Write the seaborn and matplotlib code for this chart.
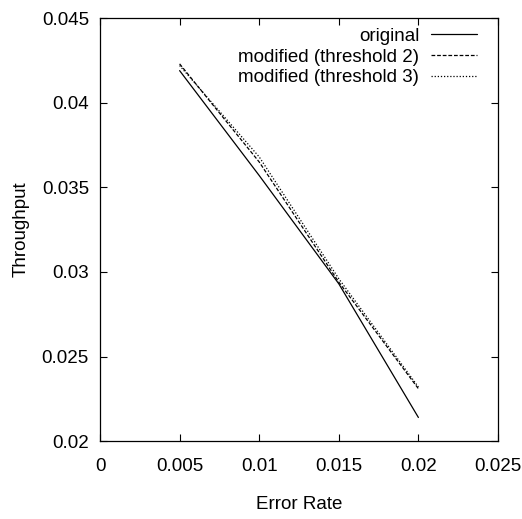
import pandas as pd
import matplotlib
matplotlib.use("Agg")
import matplotlib.pyplot as plt
import seaborn as sns

# ---- Data ----
ERROR_RATE = [0.005, 0.01, 0.015, 0.02]
ORIGINAL = [0.0419, 0.0357, 0.0293, 0.0214]
MOD_T2 = [0.0423, 0.0365, 0.0294, 0.0231]
MOD_T3 = [0.0422, 0.0368, 0.0296, 0.0232]
SERIES = ["original", "modified (threshold 2)", "modified (threshold 3)"]


def main():
    df = pd.concat([
        pd.DataFrame({"Error Rate": ERROR_RATE, "Throughput": vals, "series": name})
        for name, vals in zip(SERIES, [ORIGINAL, MOD_T2, MOD_T3])
    ], ignore_index=True)

    sns.set_theme(style="ticks")
    plt.rcParams["font.family"] = ["Liberation Sans Narrow", "Liberation Sans", "DejaVu Sans"]
    plt.rcParams["text.color"] = "black"
    plt.rcParams["axes.labelcolor"] = "black"
    plt.rcParams["xtick.color"] = "black"
    plt.rcParams["ytick.color"] = "black"

    fig = plt.figure(figsize=(5.22, 5.19), dpi=100)
    ax = fig.add_axes([0.1916, 0.150, 0.7624, 0.815])

    sns.lineplot(
        data=df, x="Error Rate", y="Throughput", style="series",
        dashes={SERIES[0]: "", SERIES[1]: (3, 1.5), SERIES[2]: (1, 1.5)},
        color="black", linewidth=0.9, ax=ax,
    )

    ax.set_xlim(0, 0.025)
    ax.set_ylim(0.02, 0.045)
    ax.set_xticks([0, 0.005, 0.01, 0.015, 0.02, 0.025])
    ax.set_xticklabels(["0", "0.005", "0.01", "0.015", "0.02", "0.025"])
    ax.set_yticks([0.02, 0.025, 0.03, 0.035, 0.04, 0.045])
    ax.set_yticklabels(["0.02", "0.025", "0.03", "0.035", "0.04", "0.045"])
    ax.tick_params(direction="in", top=True, right=True, length=5, width=0.8,
                   labelsize=13.5)
    ax.tick_params(axis="x", pad=12)
    ax.tick_params(axis="y", pad=8)
    for s in ax.spines.values():
        s.set_linewidth(0.9)
        s.set_color("black")
    ax.set_xlabel("Error Rate", fontsize=13.5, labelpad=15)
    ax.set_ylabel("Throughput", fontsize=13.5, labelpad=9)

    ax.legend(loc="upper right", bbox_to_anchor=(0.972, 1.0), frameon=False,
              markerfirst=False, fontsize=13.5, handlelength=2.5,
              labelspacing=0.2, borderaxespad=0.3, handletextpad=0.6,
              borderpad=0.2)

    fig.savefig("out.png", dpi=100)


if __name__ == "__main__":
    main()
